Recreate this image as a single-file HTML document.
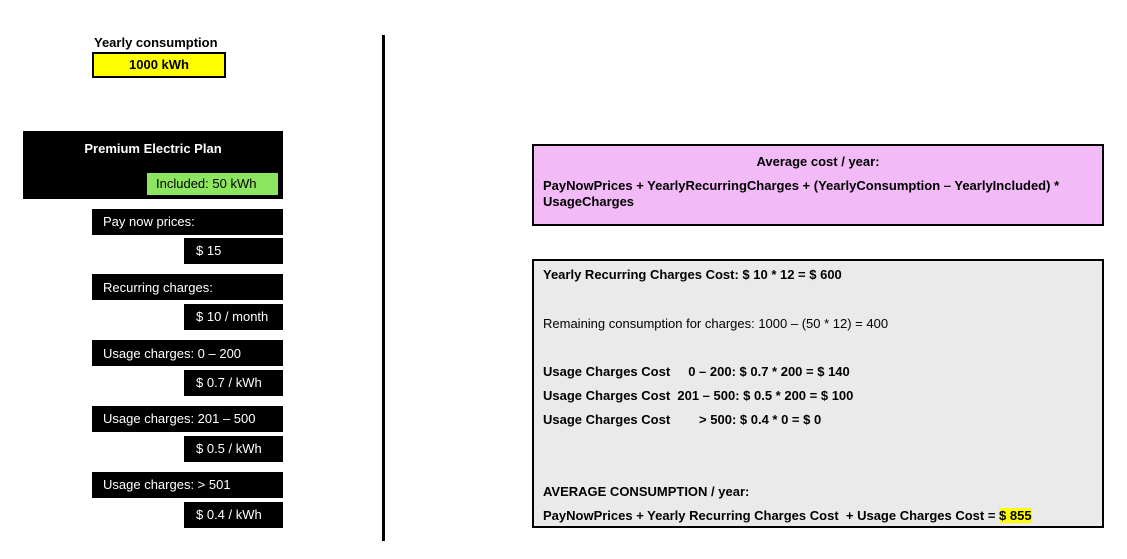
<!DOCTYPE html>
<html><head><style>
body{margin:0;width:1127px;height:559px;background:#fff;position:relative;font-family:"Liberation Sans",Arial,sans-serif;font-size:13px;overflow:hidden}
.a{position:absolute;box-sizing:border-box}
.blk{background:#000;color:#fff}
.t{position:absolute;white-space:nowrap}
</style></head><body>
<div class="t" style="left:94px;top:35px;font-weight:bold">Yearly consumption</div>
<div class="a" style="left:92px;top:52px;width:134px;height:26px;background:#ffff00;border:2px solid #000;text-align:center;line-height:22px;font-weight:bold">1000 kWh</div>

<div class="a blk" style="left:23px;top:131px;width:260px;height:68px"></div>
<div class="t" style="left:23px;width:260px;text-align:center;top:141px;color:#fff;font-weight:bold">Premium Electric Plan</div>
<div class="a" style="left:147px;top:173px;width:131px;height:22px;background:#8ee660;line-height:22px;padding-left:9px">Included: 50 kWh</div>

<div class="a blk" style="left:92px;top:209px;width:191px;height:26px;line-height:26px;padding-left:11px">Pay now prices:</div>
<div class="a blk" style="left:184px;top:238px;width:99px;height:26px;line-height:26px;padding-left:12px">$ 15</div>
<div class="a blk" style="left:92px;top:274px;width:191px;height:26px;line-height:28px;padding-left:11px">Recurring charges:</div>
<div class="a blk" style="left:184px;top:304px;width:99px;height:26px;line-height:26px;padding-left:12px">$ 10 / month</div>
<div class="a blk" style="left:92px;top:340px;width:191px;height:26px;line-height:28px;padding-left:11px">Usage charges: 0 – 200</div>
<div class="a blk" style="left:184px;top:370px;width:99px;height:26px;line-height:26px;padding-left:12px">$ 0.7 / kWh</div>
<div class="a blk" style="left:92px;top:406px;width:191px;height:26px;line-height:26px;padding-left:11px">Usage charges: 201 – 500</div>
<div class="a blk" style="left:184px;top:436px;width:99px;height:26px;line-height:26px;padding-left:12px">$ 0.5 / kWh</div>
<div class="a blk" style="left:92px;top:472px;width:191px;height:26px;line-height:26px;padding-left:11px">Usage charges: &gt; 501</div>
<div class="a blk" style="left:184px;top:502px;width:99px;height:26px;line-height:26px;padding-left:12px">$ 0.4 / kWh</div>

<div class="a" style="left:382px;top:35px;width:3px;height:506px;background:#000"></div>

<div class="a" style="left:532px;top:144px;width:572px;height:82px;background:#f2baf6;border:2px solid #000"></div>
<div class="t" style="left:532px;width:572px;text-align:center;top:154px;font-weight:bold">Average cost / year:</div>
<div class="t" style="left:543px;top:178px;font-weight:bold;line-height:16px">PayNowPrices + YearlyRecurringCharges + (YearlyConsumption – YearlyIncluded) *<br>UsageCharges</div>

<div class="a" style="left:532px;top:259px;width:572px;height:269px;background:#eaeaea;border:2px solid #000"></div>
<div class="t" style="left:543px;top:267px;font-weight:bold">Yearly Recurring Charges Cost: $ 10 * 12 = $ 600</div>
<div class="t" style="left:543px;top:316px">Remaining consumption for charges: 1000 – (50 * 12) = 400</div>
<div class="t" style="left:543px;top:364px;font-weight:bold">Usage Charges Cost &nbsp;&nbsp;&nbsp;&nbsp;0 – 200: $ 0.7 * 200 = $ 140</div>
<div class="t" style="left:543px;top:388px;font-weight:bold">Usage Charges Cost &nbsp;201 – 500: $ 0.5 * 200 = $ 100</div>
<div class="t" style="left:543px;top:412px;font-weight:bold">Usage Charges Cost &nbsp;&nbsp;&nbsp;&nbsp;&nbsp;&nbsp;&nbsp;&gt; 500: $ 0.4 * 0 = $ 0</div>
<div class="t" style="left:543px;top:484px;font-weight:bold">AVERAGE CONSUMPTION / year:</div>
<div class="t" style="left:543px;top:508px;font-weight:bold">PayNowPrices + Yearly Recurring Charges Cost &nbsp;+ Usage Charges Cost = <span style="background:#ffff00">$ 855</span></div>
</body></html>
